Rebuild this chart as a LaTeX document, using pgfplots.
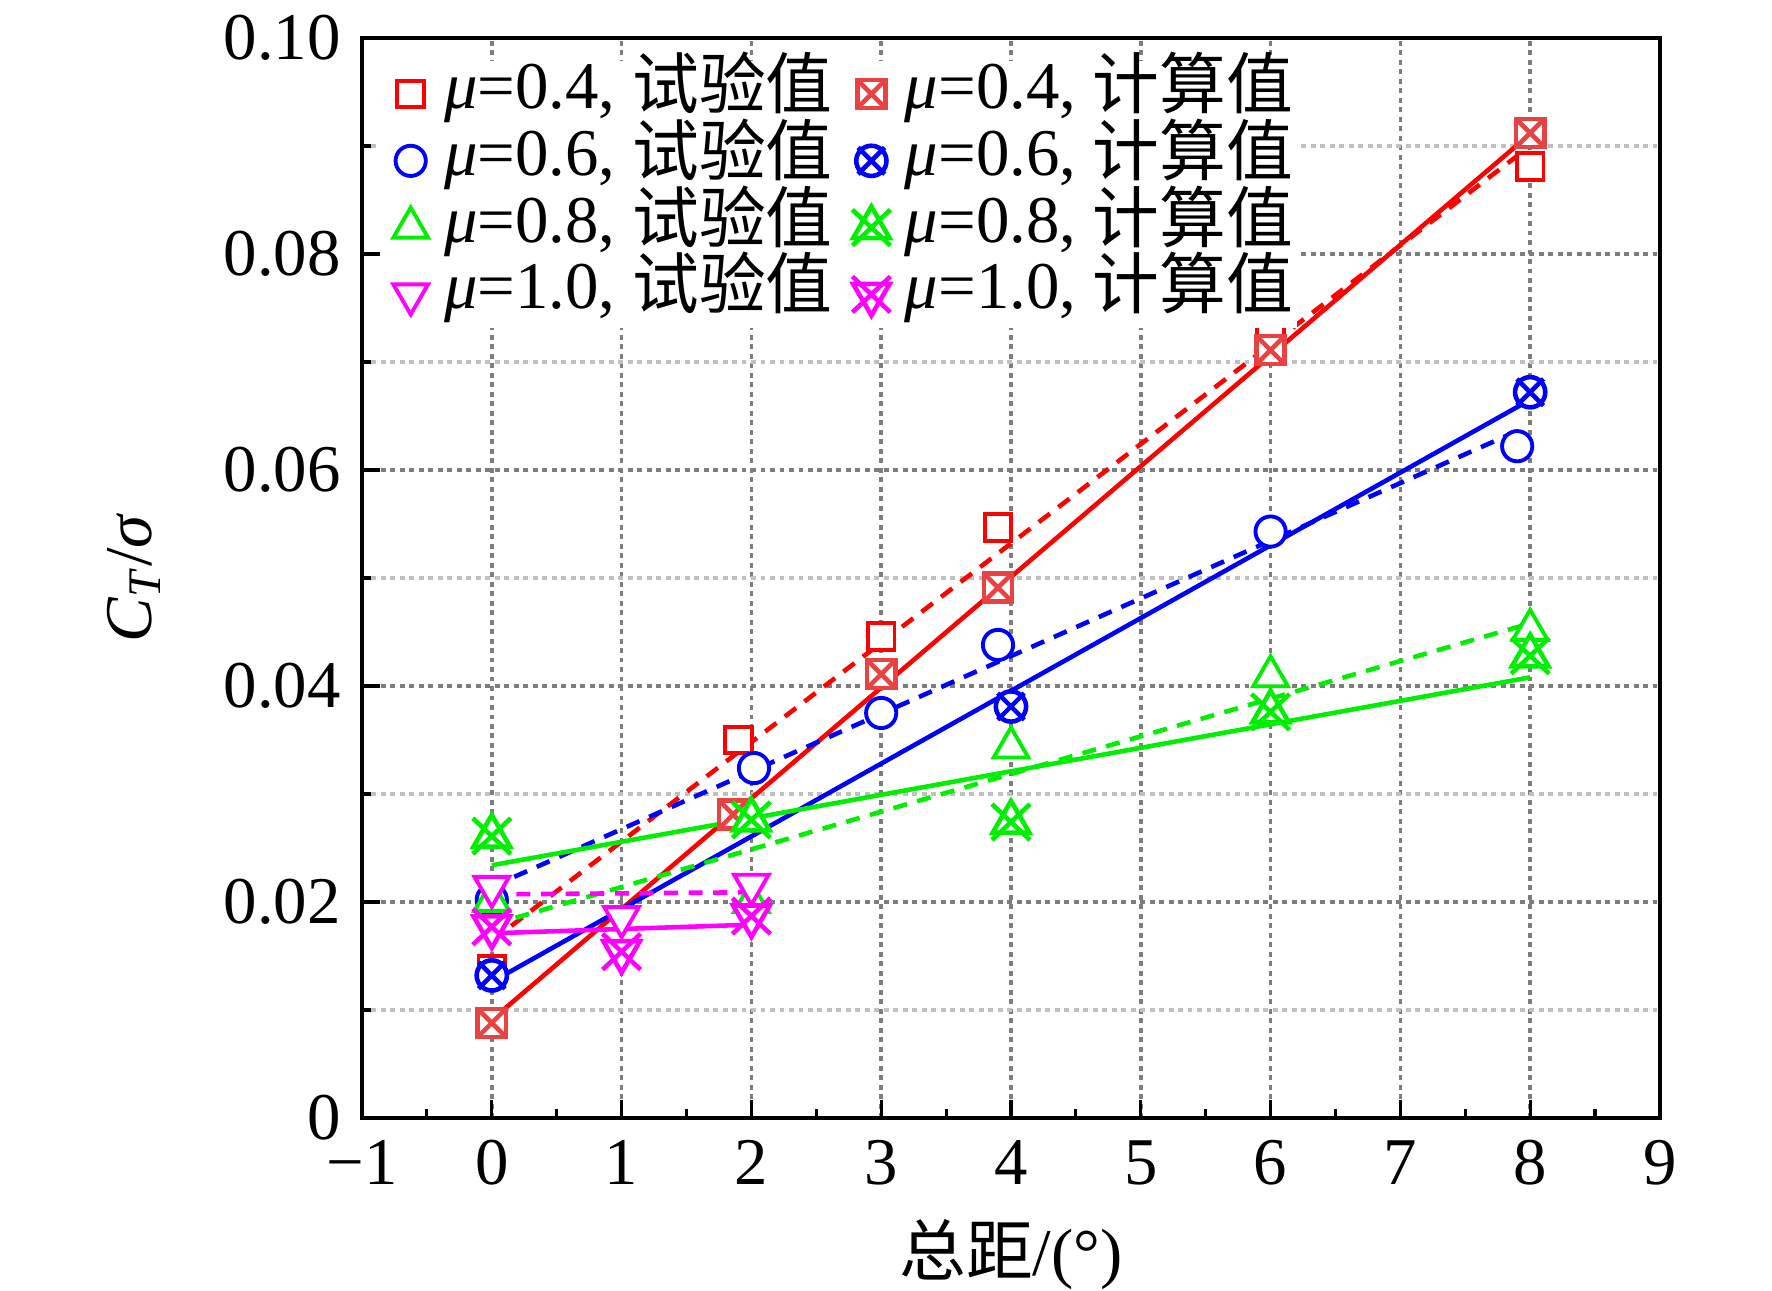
\documentclass[border=0pt]{standalone}
\usepackage{fontspec}
\setmainfont{Liberation Serif}
\newfontfamily\cjk{Noto Sans CJK SC}
\usepackage{pgfplots}
\pgfplotsset{compat=1.18}
\definecolor{cR}{RGB}{255,0,0}
\definecolor{cRc}{RGB}{232,66,66}
\definecolor{cB}{RGB}{0,0,255}
\definecolor{cG}{RGB}{0,238,0}
\definecolor{cM}{RGB}{255,0,255}
\definecolor{gmaj}{RGB}{125,125,125}
\definecolor{gmin}{RGB}{192,192,192}
\pgfdeclareplotmark{sqx}{%
 \pgfpathrectangle{\pgfqpoint{-\pgfplotmarksize}{-\pgfplotmarksize}}{\pgfqpoint{2\pgfplotmarksize}{2\pgfplotmarksize}}%
 \pgfusepathqfillstroke
 \pgfpathmoveto{\pgfqpoint{-\pgfplotmarksize}{-\pgfplotmarksize}}\pgfpathlineto{\pgfqpoint{\pgfplotmarksize}{\pgfplotmarksize}}%
 \pgfpathmoveto{\pgfqpoint{-\pgfplotmarksize}{\pgfplotmarksize}}\pgfpathlineto{\pgfqpoint{\pgfplotmarksize}{-\pgfplotmarksize}}%
 \pgfusepathqstroke}
\pgfdeclareplotmark{cirx}{%
 \pgfpathcircle{\pgfpointorigin}{\pgfplotmarksize}%
 \pgfusepathqfillstroke
 \pgfpathmoveto{\pgfqpoint{-0.88\pgfplotmarksize}{-0.88\pgfplotmarksize}}\pgfpathlineto{\pgfqpoint{0.88\pgfplotmarksize}{0.88\pgfplotmarksize}}%
 \pgfpathmoveto{\pgfqpoint{-0.88\pgfplotmarksize}{0.88\pgfplotmarksize}}\pgfpathlineto{\pgfqpoint{0.88\pgfplotmarksize}{-0.88\pgfplotmarksize}}%
 \pgfusepathqstroke}
\pgfdeclareplotmark{trix}{%
 \pgfpathmoveto{\pgfqpoint{0pt}{\pgfplotmarksize}}%
 \pgfpathlineto{\pgfqpoint{-0.866\pgfplotmarksize}{-0.5\pgfplotmarksize}}%
 \pgfpathlineto{\pgfqpoint{0.866\pgfplotmarksize}{-0.5\pgfplotmarksize}}%
 \pgfpathclose
 \pgfusepathqfillstroke
 \pgfpathmoveto{\pgfqpoint{-0.9\pgfplotmarksize}{-0.85\pgfplotmarksize}}\pgfpathlineto{\pgfqpoint{0.9\pgfplotmarksize}{0.85\pgfplotmarksize}}%
 \pgfpathmoveto{\pgfqpoint{-0.9\pgfplotmarksize}{0.85\pgfplotmarksize}}\pgfpathlineto{\pgfqpoint{0.9\pgfplotmarksize}{-0.85\pgfplotmarksize}}%
 \pgfusepathqstroke}
\newcommand{\fs}{\fontsize{19}{22}\selectfont}
\begin{document}
\begin{tikzpicture}
\useasboundingbox (-36.2mm,-17.3mm) rectangle (141mm,111.8mm);
\begin{axis}[
 at={(0,0)}, anchor=south west, scale only axis,
 width=129.8mm, height=108mm,
 xmin=-1, xmax=9, ymin=0, ymax=0.1,
 xtick={-1,0,1,2,3,4,5,6,7,8,9},
 xticklabels={−1,0,1,2,3,4,5,6,7,8,9},
 ytick={0,0.02,0.04,0.06,0.08,0.1},
 yticklabels={0,0.02,0.04,0.06,0.08,0.10},
 scaled y ticks=false,
 minor xtick={-0.5,0.5,1.5,2.5,3.5,4.5,5.5,6.5,7.5,8.5},
 minor ytick={0.01,0.03,0.05,0.07,0.09},
 tick pos=left, tick align=inside,
 major tick length=5.2pt, minor tick length=2.6pt,
 every tick/.style={black, line width=0.9pt},
 axis line style={line width=1.1pt},
 xmajorgrids, ymajorgrids, yminorgrids,
 major grid style={gmaj, line width=1pt, dash pattern=on 1.4pt off 1.3pt},
 minor grid style={gmin, line width=1pt, dash pattern=on 1.4pt off 1.3pt},
 tick label style={font=\fs, inner sep=1pt},
 xticklabel style={yshift=-5.2pt},
 yticklabel style={xshift=-4.9pt},
 label style={font=\fs},
 xlabel={{\cjk 总距}/(°)},
 ylabel={\textit{C}\textsubscript{\textit{T}}/\textit{σ}},
 xlabel style={at={(axis description cs:0.5,-0.1269)}, anchor=center},
 ylabel style={at={(axis description cs:-0.1757,0.5)}, anchor=center},
 legend columns=2,
 legend cell align=left,
 legend image code/.code={\path[draw=none,fill=none] (0cm,-0.01cm) rectangle (0.6cm,0.01cm); \draw[#1] plot coordinates {(0.3cm,0cm)};},
 legend style={at={(axis description cs:0,1)}, anchor=north west, xshift=1.8mm, yshift=-2.2mm,
   draw=none, fill=white, inner sep=0pt, font=\fs,
   nodes={inner sep=1pt, text height=12.6pt, text depth=4.4pt},
   /tikz/every even column/.append style={column sep=1.5pt}},
]
% fitted lines
\addplot[cR, line width=1.3pt, forget plot] coordinates {(0,0.0091) (8,0.0911)};
\addplot[cR, line width=1.3pt, dash pattern=on 4pt off 3pt, forget plot] coordinates {(0,0.0164) (8,0.0900)};
\addplot[cB, line width=1.3pt, forget plot] coordinates {(0,0.0126) (8,0.0665)};
\addplot[cB, line width=1.3pt, dash pattern=on 4pt off 3pt, forget plot] coordinates {(0,0.0214) (7.9,0.0636)};
\addplot[cG, line width=1.3pt, forget plot] coordinates {(0,0.0234) (8,0.0408)};
\addplot[cG, line width=1.3pt, dash pattern=on 4pt off 3pt, forget plot] coordinates {(0,0.0179) (8,0.0458)};
\addplot[cM, line width=1.3pt, forget plot] coordinates {(0,0.0171) (2,0.0179)};
\addplot[cM, line width=1.3pt, dash pattern=on 4pt off 3pt, forget plot] coordinates {(0,0.0207) (2,0.0209)};
% markers
\addplot[only marks, mark=square*, mark size=3.8pt, mark options={draw=cR, fill=white, line width=1.1pt}]
 coordinates {(0,0.0138) (1.9,0.0350) (3,0.0446) (3.9,0.0547) (6,0.0726) (8,0.0881)};
\addlegendentry{\textit{μ}=0.4, {\cjk 试验值}}
\addplot[only marks, mark=sqx, mark size=4pt, mark options={draw=cRc, fill=white, line width=1.3pt}]
 coordinates {(0,0.0088) (1.86,0.0281) (3,0.0411) (3.9,0.0491) (6,0.0711) (8,0.0912)};
\addlegendentry{\textit{μ}=0.4, {\cjk 计算值}}
\addplot[only marks, mark=*, mark size=4.3pt, mark options={draw=cB, fill=white, line width=1.1pt}]
 coordinates {(0,0.0202) (2.02,0.0324) (3,0.0375) (3.9,0.0438) (6,0.0543) (7.9,0.0622)};
\addlegendentry{\textit{μ}=0.6, {\cjk 试验值}}
\addplot[only marks, mark=cirx, mark size=4.3pt, mark options={draw=cB, fill=white, line width=1.3pt}]
 coordinates {(0,0.0132) (4,0.0381) (8,0.0672)};
\addlegendentry{\textit{μ}=0.6, {\cjk 计算值}}
\addplot[only marks, mark=triangle*, mark size=5.7pt, mark options={draw=cG, fill=white, line width=1.1pt}]
 coordinates {(0,0.0201) (2,0.0200) (4,0.0343) (6,0.0409) (8,0.0452)};
\addlegendentry{\textit{μ}=0.8, {\cjk 试验值}}
\addplot[only marks, mark=trix, mark size=6pt, mark options={draw=cG, fill=white, line width=1.3pt}]
 coordinates {(0,0.0261) (2,0.0276) (4,0.0274) (6,0.0376) (8,0.0428)};
\addlegendentry{\textit{μ}=0.8, {\cjk 计算值}}
\addplot[only marks, mark=triangle*, mark size=5.7pt, mark options={draw=cM, fill=white, line width=1.1pt, rotate=180}]
 coordinates {(0,0.0214) (1,0.0186) (2,0.0216)};
\addlegendentry{\textit{μ}=1.0, {\cjk 试验值}}
\addplot[only marks, mark=trix, mark size=6pt, mark options={draw=cM, fill=white, line width=1.3pt, rotate=180}]
 coordinates {(0,0.0177) (1,0.0154) (2,0.0187)};
\addlegendentry{\textit{μ}=1.0, {\cjk 计算值}}
\end{axis}
\end{tikzpicture}
\end{document}
